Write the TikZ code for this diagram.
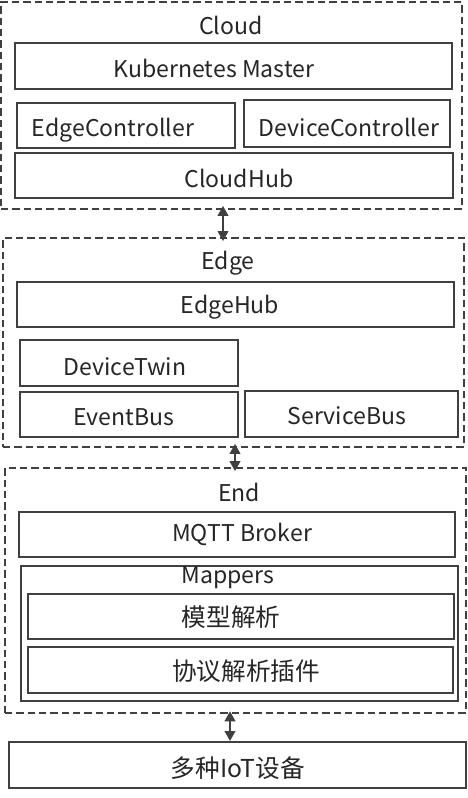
\documentclass[tikz,border=0pt]{standalone}
\usepackage{fontspec}
\setmainfont{Noto Sans CJK SC}
\usetikzlibrary{arrows.meta,fit}
\definecolor{ln}{HTML}{404040}
\definecolor{tx}{HTML}{262626}
\begin{document}
\begin{tikzpicture}[x=0.75pt,y=-0.75pt,
  box/.style={draw=ln,line width=1.5pt,inner sep=0pt},
  dbox/.style={draw=ln,line width=1.4pt,inner sep=0pt,dash pattern=on 5.5pt off 3pt},
  txt/.style={text=tx,font=\fontsize{17.3}{20}\selectfont,inner sep=0pt},
  cjk/.style={text=tx,font=\fontsize{18.5}{22}\selectfont,inner sep=0pt},
  arr/.style={draw=ln,line width=1.4pt,{Triangle[width=8pt,length=7.5pt]}-{Triangle[width=8pt,length=7.5pt]}}]
\useasboundingbox[fill=white] (0,0) rectangle (467,798);
% Cloud
\node[dbox,fit={(1,2)(462,209)}] (cloud) {};
\node[txt] (cloudt) at (231,25) {Cloud};
\node[box,fit={(15,43)(452,89)}] (km) {};
\node[txt] (kmt) at (214,68) {Kubernetes Master};
\node[box,fit={(17,103)(235,148)}] (ec) {};
\node[txt] (ect) at (113,130) {EdgeController};
\node[box,fit={(244,100)(450,147)}] (dc) {};
\node[txt] (dct) at (349,127) {DeviceController};
\node[box,fit={(15,153)(453,198)}] (ch) {};
\node[txt] (cht) at (239,178) {CloudHub};
% Edge
\node[dbox,fit={(3,238)(464,447)}] (edge) {};
\node[txt] (edget) at (228,263) {Edge};
\node[box,fit={(17,282)(454,327)}] (eh) {};
\node[txt] (eht) at (230,307) {EdgeHub};
\node[box,fit={(20,340)(238,386)}] (dt) {};
\node[txt] (dtt) at (125,367) {DeviceTwin};
\node[box,fit={(20,392)(238,437)}] (eb) {};
\node[txt] (ebt) at (124,417) {EventBus};
\node[box,fit={(245,391)(458,437)}] (sb) {};
\node[txt] (sbt) at (347,416) {ServiceBus};
% End
\node[dbox,fit={(5,468)(466,713)}] (end) {};
\node[txt] (endt) at (239,492) {End};
\node[box,fit={(19,512)(455,557)}] (mq) {};
\node[txt] (mqt) at (242,534) {MQTT Broker};
\node[box,fit={(21,566)(458,701)}] (mp) {};
\node[txt] (mpt) at (228,578) {Mappers};
\node[box,fit={(28,594)(454,639)}] (mx) {};
\node[cjk] (mxt) at (231,617) {模型解析};
\node[box,fit={(28,647)(453,693)}] (xy) {};
\node[cjk] (xyt) at (246,671) {协议解析插件};
% devices
\node[box,fit={(9,742)(466,788)}] (dev) {};
\node[cjk] (devt) at (238,768) {多种IoT设备};
% arrows
\coordinate (a1) at (223,0);
\coordinate (a2) at (235,0);
\coordinate (a3) at (230,0);
\draw[arr,shorten <=-3pt,shorten >=-3pt] (cloud.south -| a1) -- (edge.north -| a1);
\draw[arr,shorten <=-3pt,shorten >=-3pt] (edge.south -| a2) -- (end.north -| a2);
\draw[arr,shorten <=-2pt,shorten >=0pt] (end.south -| a3) -- (dev.north -| a3);
\end{tikzpicture}
\end{document}
